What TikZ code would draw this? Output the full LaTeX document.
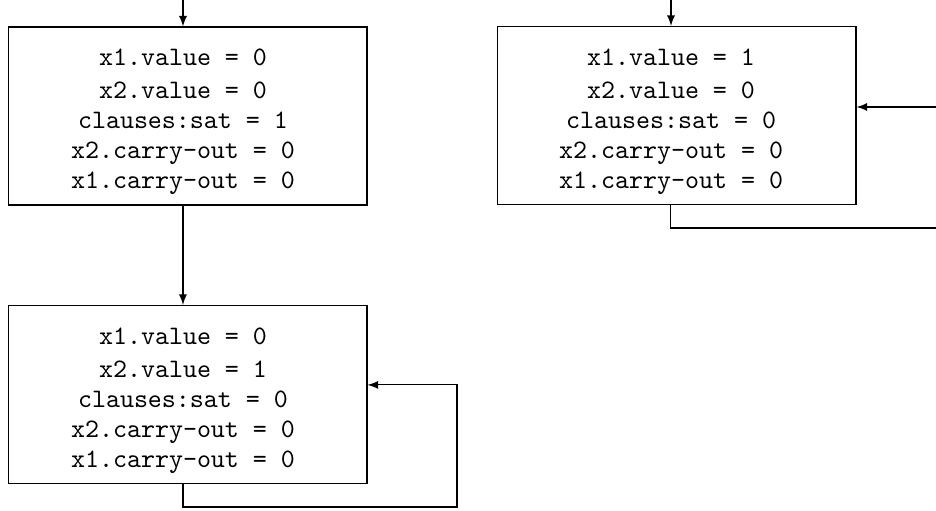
\documentclass[tikz,border=0pt]{standalone}
\begin{document}
\begin{tikzpicture}[x=0.375pt, y=-0.375pt, >=latex,
    state/.style={draw, rectangle, minimum width=134.6pt, minimum height=66.75pt},
    vars/.style={font=\ttfamily\fontsize{10}{11.25}\selectfont, align=center, inner sep=0pt}]
  \useasboundingbox (0,0) rectangle (936,510);

  % state boxes
  \node[state] (s0) at (187.5,116) {};
  \node[state] (s1) at (676.5,115.5) {};
  \node[state] (s2) at (187.5,394.5) {};

  % variable assignments
  \node[vars] (s0vals) at (183,122) {x1.value = 0\\[1.2pt] x2.value = 0\\ clauses:sat = 1\\ x2.carry-out = 0\\ x1.carry-out = 0};
  \node[vars] (s1vals) at (671,121.5) {x1.value = 1\\[1.2pt] x2.value = 0\\ clauses:sat = 0\\ x2.carry-out = 0\\ x1.carry-out = 0};
  \node[vars] (s2vals) at (183,400.5) {x1.value = 0\\[1.2pt] x2.value = 1\\ clauses:sat = 0\\ x2.carry-out = 0\\ x1.carry-out = 0};

  % initial arrows
  \coordinate (init0) at (183,0);
  \coordinate (init1) at (671,0);
  \draw[->] (init0) -- (init0 |- s0.north);
  \draw[->] (init1) -- (init1 |- s1.north);

  % transition
  \draw[->] ([xshift=-1.7pt]s0.south) -- ([xshift=-1.7pt]s2.north);

  % self loops
  \coordinate (back2) at (457,507);
  \coordinate (back1) at (950,228);
  \draw[->] ([xshift=-1.7pt]s2.south) |- (back2) |- ([yshift=3.6pt]s2.east);
  \draw[->] ([xshift=-2.1pt]s1.south) |- (back1) |- ([yshift=3.2pt]s1.east);
\end{tikzpicture}
\end{document}
